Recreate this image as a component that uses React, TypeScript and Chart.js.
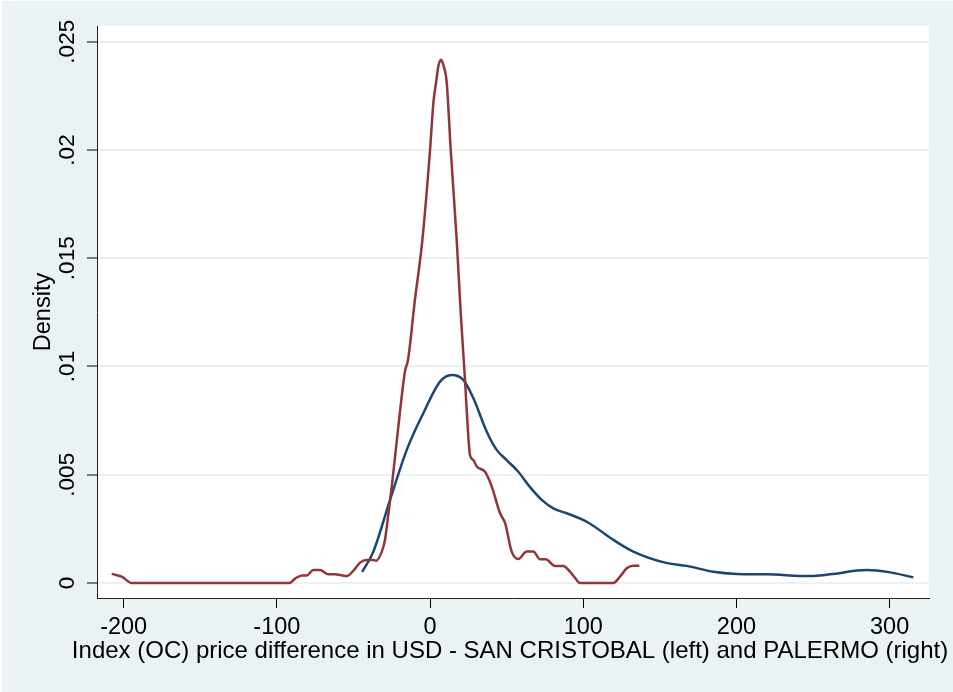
import React, { useEffect, useRef } from 'react';
import { Chart, registerables } from 'chart.js';

Chart.register(...registerables);

const FONT = "'Liberation Sans', Arial, Helvetica, sans-serif";

const xTicks = [-200, -100, 0, 100, 200, 300];
const yTicks = [0, 0.005, 0.01, 0.015, 0.02, 0.025];
const yTickLabels = ['0', '.005', '.01', '.015', '.02', '.025'];
const xTitle = 'Index (OC) price difference in USD - SAN CRISTOBAL (left) and PALERMO (right)';
const yTitle = 'Density';

// navy density curve
const navyX = [-44.3, -37, -26.1, -15.2, -4.4, 6.5, 14.2, 21.7, 28.3, 37, 43.5, 50, 57.6, 65, 72.9, 80.5, 90, 102.3, 119.7, 132.7, 153.4, 167.6, 184.9, 200.2, 219.8, 248, 261.1, 285, 300.3, 315.5];
const navyY = [0.00051, 0.00145, 0.00384, 0.00615, 0.00784, 0.0093, 0.00961, 0.00938, 0.00853, 0.00699, 0.00615, 0.00568, 0.00514, 0.00445, 0.00384, 0.00345, 0.0032, 0.00283, 0.00199, 0.00145, 0.00094, 0.00079, 0.00052, 0.00042, 0.0004, 0.00032, 0.0004, 0.0006, 0.00049, 0.00026];

// maroon density curve
const maroonX = [-207.8, -201.3, -194.7, -91.8, -88.1, -83.7, -80.5, -76.2, -71.8, -66.4, -62, -58.7, -54.4, -50, -45.7, -41.3, -37, -35.2, -31.5, -29.4, -27, -25, -20.7, -16.3, -14.4, -10, -5, 0, 2.2, 3.9, 5.5, 7.2, 8.8, 10.9, 13.5, 17.4, 20, 22.8, 24.5, 26.1, 28.3, 30.5, 35.9, 40.3, 45.7, 49, 53.3, 57.6, 63.1, 67.4, 71.8, 75.5, 81.6, 87, 91.4, 94.5, 97.9, 119.6, 124, 128.4, 132.7, 136.6];
const maroonY = [0.00042, 0.00029, 0, 0, 0.0002, 0.00035, 0.00035, 0.0006, 0.0006, 0.0004, 0.0004, 0.00037, 0.00032, 0.00057, 0.00094, 0.00106, 0.00106, 0.00103, 0.00145, 0.002, 0.0033, 0.00445, 0.00722, 0.0098, 0.0103, 0.013, 0.01585, 0.02, 0.0222, 0.0231, 0.0239, 0.02417, 0.0239, 0.0231, 0.02, 0.01585, 0.0125, 0.0094, 0.0073, 0.0059, 0.00568, 0.00538, 0.00514, 0.00445, 0.00322, 0.00276, 0.00145, 0.00111, 0.00145, 0.00145, 0.0011, 0.0011, 0.00079, 0.00079, 0.00052, 0.00025, 0, 0, 0.00029, 0.00068, 0.0008, 0.0008];

const BG = '#EAF2F3';

const bgPlugin = {
  id: 'stataBg',
  beforeDraw(chart: any) {
    const { ctx, width, height, chartArea } = chart;
    ctx.save();
    ctx.fillStyle = '#ffffff';
    ctx.fillRect(0, 0, width, height);
    ctx.fillStyle = BG;
    ctx.fillRect(2, 1, width - 2, height - 1);
    ctx.fillStyle = '#ffffff';
    ctx.fillRect(chartArea.left, chartArea.top, chartArea.right - chartArea.left, chartArea.bottom - chartArea.top);
    ctx.restore();
  },
};

// x-axis title drawn without Chart.js's maxWidth squeeze (the title is wider than the plot)
const xTitlePlugin = {
  id: 'xTitleWide',
  afterDraw(chart: any) {
    const { ctx, chartArea } = chart;
    const xs = chart.scales.x;
    ctx.save();
    ctx.font = `24px ${FONT}`;
    ctx.fillStyle = '#000000';
    ctx.textAlign = 'center';
    ctx.textBaseline = 'middle';
    ctx.fillText(xTitle, (chartArea.left + chartArea.right) / 2 - 3, xs.top + 53);
    ctx.restore();
  },
};

export default function App() {
  const ref = useRef<HTMLCanvasElement | null>(null);

  useEffect(() => {
    document.body.style.margin = '0';
    const canvas = ref.current;
    if (!canvas) return;
    const chart = new Chart(canvas, {
      type: 'line',
      data: {
        datasets: [
          {
            label: 'maroon',
            data: maroonX.map((x, i) => ({ x, y: maroonY[i] })),
            borderColor: '#90353B',
            borderWidth: 2.5,
            pointRadius: 0,
            fill: false,
            cubicInterpolationMode: 'monotone',
          },
          {
            label: 'navy',
            data: navyX.map((x, i) => ({ x, y: navyY[i] })),
            borderColor: '#1A476F',
            borderWidth: 2.5,
            pointRadius: 0,
            fill: false,
            cubicInterpolationMode: 'monotone',
          },
        ],
      },
      options: {
        animation: false,
        responsive: false,
        devicePixelRatio: 1,
        layout: { padding: { top: 26, right: 24, left: 0, bottom: 0 } },
        plugins: {
          legend: { display: false },
          tooltip: { enabled: false },
        },
        scales: {
          x: {
            type: 'linear',
            position: 'bottom',
            min: -217.4,
            max: 325.7,
            afterBuildTicks: (scale: any) => {
              scale.ticks = xTicks.map((v) => ({ value: v }));
            },
            afterFit: (scale: any) => {
              scale.height = 94;
            },
            grid: {
              drawOnChartArea: false,
              drawTicks: true,
              tickLength: 10,
              tickColor: '#000000',
              tickWidth: 1,
            },
            border: { display: true, color: '#222222', width: 1 },
            ticks: {
              autoSkip: false,
              maxRotation: 0,
              minRotation: 0,
              padding: 5,
              color: '#000000',
              font: { family: FONT, size: 23.5 },
              callback: (v: any) => String(v),
            },
            title: { display: false },
          },
          y: {
            type: 'linear',
            position: 'left',
            min: -0.000693,
            max: 0.025727,
            afterBuildTicks: (scale: any) => {
              scale.ticks = yTicks.map((v) => ({ value: v }));
            },
            afterFit: (scale: any) => {
              scale.width = 97;
            },
            grid: {
              color: BG,
              lineWidth: 2,
              drawOnChartArea: true,
              drawTicks: true,
              tickLength: 10,
              tickColor: '#000000',
              tickWidth: 1,
            },
            border: { display: true, color: '#222222', width: 1 },
            ticks: {
              autoSkip: false,
              minRotation: 90,
              maxRotation: 90,
              crossAlign: 'center',
              padding: -3,
              color: '#000000',
              font: { family: FONT, size: 22.5 },
              callback: (v: any) => {
                const i = yTicks.indexOf(v);
                return i >= 0 ? yTickLabels[i] : '';
              },
            },
            title: {
              display: true,
              text: yTitle,
              color: '#000000',
              font: { family: FONT, size: 23.5 },
              padding: { top: 29, bottom: 0 },
            },
          },
        },
      },
      plugins: [bgPlugin, xTitlePlugin],
    } as any);
    return () => chart.destroy();
  }, []);

  return (
    <div style={{ width: 953, height: 692 }}>
      <canvas ref={ref} width={953} height={692} style={{ display: 'block', width: 953, height: 692 }} />
    </div>
  );
}
